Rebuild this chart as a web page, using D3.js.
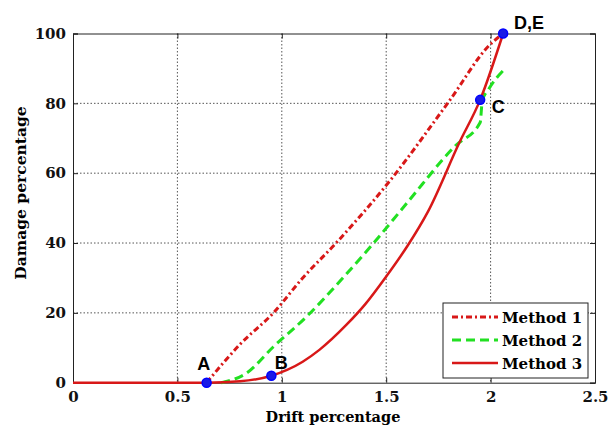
<!DOCTYPE html>
<html>
<head>
<meta charset="utf-8">
<script src="https://cdn.jsdelivr.net/npm/d3@7"></script>
<style>
  body { margin: 0; background: #fff; }
  svg { display: block; }
</style>
</head>
<body>
<svg id="chart" width="613" height="433"></svg>
<script>
// values
var xTicks = [0, 0.5, 1, 1.5, 2, 2.5]
var yTicks = [0, 20, 40, 60, 80, 100]

var m1X = [0.64, 0.8, 0.96, 1.1, 1.26, 1.52, 1.8, 2.0, 2.06]
var m1Y = [0, 11, 20, 30, 40, 58, 80.5, 97, 100]

var m2X = [0.71, 0.83, 0.96, 1.12, 1.3, 1.44, 1.6, 1.83, 1.95, 1.96, 1.99, 2.07]
var m2Y = [0, 2.7, 10.3, 19, 30.5, 40, 51.5, 67.8, 74.5, 80.7, 84, 90]

var m3X = [0, 0.37, 0.64, 0.8, 0.95, 1.1, 1.18, 1.31, 1.4, 1.5, 1.6, 1.7, 1.85, 1.95, 2.06]
var m3Y = [0, 0, 0, 0.4, 2, 6, 9.4, 16.6, 22.5, 30.4, 39, 49, 68.7, 81, 100]

var ptX = [0.64, 0.95, 1.95, 2.06]
var ptY = [0, 2, 81, 100]
var ptLabel = ["A", "B", "C", "D,E"]

var legendNames = ["Method 1", "Method 2", "Method 3"]

var svg = d3.select("#chart")
var plotL = 73, plotR = 595, plotT = 33.5, plotB = 382.7

var x = d3.scaleLinear().domain([0, 2.5]).range([plotL, plotR])
var y = d3.scaleLinear().domain([0, 100]).range([plotB, plotT])

var serif = "'DejaVu Serif', serif"

// grid
svg.append("g").selectAll("line").data(xTicks.slice(1, -1)).join("line")
    .attr("x1", d => x(d)).attr("x2", d => x(d))
    .attr("y1", plotT).attr("y2", plotB)
    .attr("stroke", "#555").attr("stroke-width", 1).attr("stroke-dasharray", "1.5,2")
svg.append("g").selectAll("line").data(yTicks.slice(1, -1)).join("line")
    .attr("y1", d => y(d)).attr("y2", d => y(d))
    .attr("x1", plotL).attr("x2", plotR)
    .attr("stroke", "#555").attr("stroke-width", 1).attr("stroke-dasharray", "1.5,2")

// axes (ticks inside, like matlab)
svg.append("g").attr("transform", "translate(0," + plotB + ")")
    .call(d3.axisBottom(x).tickValues(xTicks).tickSize(-5).tickPadding(9).tickFormat(d3.format("")))
svg.append("g").attr("transform", "translate(" + plotL + ",0)")
    .call(d3.axisLeft(y).tickValues(yTicks).tickSize(-5).tickPadding(7))
svg.append("g").attr("transform", "translate(0," + plotT + ")")
    .call(d3.axisTop(x).tickValues(xTicks).tickSize(-5).tickFormat(""))
svg.append("g").attr("transform", "translate(" + plotR + ",0)")
    .call(d3.axisRight(y).tickValues(yTicks).tickSize(-5).tickFormat(""))

svg.selectAll(".domain").attr("stroke", "#222")
svg.selectAll(".tick line").attr("stroke", "#222")
svg.selectAll(".tick text")
    .style("font-family", serif).style("font-weight", "bold")
    .style("font-size", "15px").attr("fill", "#111")

// axis titles
svg.append("text").attr("x", (plotL + plotR) / 2 - 1).attr("y", 422)
    .attr("text-anchor", "middle")
    .style("font-family", serif).style("font-weight", "bold").style("font-size", "14.5px")
    .text("Drift percentage")
svg.append("text").attr("transform", "translate(26,193) rotate(-90)")
    .attr("text-anchor", "middle")
    .style("font-family", serif).style("font-weight", "bold").style("font-size", "15.5px")
    .text("Damage percentage")

// curves
function series(xs, ys) { return xs.map((v, i) => [v, ys[i]]) }
var line = d3.line().x(d => x(d[0])).y(d => y(d[1])).curve(d3.curveMonotoneX)

var styles = [
    { color: "#d81818", width: 3, dash: "6,3,2,3" },
    { color: "#22e022", width: 3, dash: "9,5" },
    { color: "#d81818", width: 2.5, dash: null }
]
var data = [series(m1X, m1Y), series(m2X, m2Y), series(m3X, m3Y)]

svg.append("g").selectAll("path").data(data).join("path")
    .attr("d", line)
    .attr("fill", "none")
    .attr("stroke", (d, i) => styles[i].color)
    .attr("stroke-width", (d, i) => styles[i].width)
    .attr("stroke-dasharray", (d, i) => styles[i].dash)

// marked points
var pts = series(ptX, ptY)
svg.append("g").selectAll("circle").data(pts).join("circle")
    .attr("cx", d => x(d[0])).attr("cy", d => y(d[1])).attr("r", 4.5)
    .attr("fill", "#1a1ae6").attr("stroke", "#0000ff").attr("stroke-width", 1.5)

var labelOffset = [[-3, -13], [10, -7], [18, 13], [26, -5]]
svg.append("g").selectAll("text").data(pts).join("text")
    .attr("x", (d, i) => x(d[0]) + labelOffset[i][0])
    .attr("y", (d, i) => y(d[1]) + labelOffset[i][1])
    .attr("text-anchor", "middle")
    .style("font-family", "'Liberation Sans', Arial, sans-serif")
    .style("font-weight", "bold").style("font-size", "18px")
    .text((d, i) => ptLabel[i])

// legend
var lg = svg.append("g")
lg.append("rect").attr("x", 443).attr("y", 303).attr("width", 145).attr("height", 75)
    .attr("fill", "#fff").attr("stroke", "#222").attr("stroke-width", 1)
var rows = lg.selectAll("g").data(legendNames).join("g")
    .attr("transform", (d, i) => "translate(0," + (317 + i * 23) + ")")
rows.append("line").attr("x1", 452).attr("x2", 498).attr("y1", 0).attr("y2", 0)
    .attr("stroke", (d, i) => styles[i].color)
    .attr("stroke-width", (d, i) => styles[i].width)
    .attr("stroke-dasharray", (d, i) => styles[i].dash)
rows.append("text").attr("x", 502).attr("y", 5.5)
    .style("font-family", serif).style("font-weight", "bold").style("font-size", "15px")
    .text(d => d)
</script>
</body>
</html>
